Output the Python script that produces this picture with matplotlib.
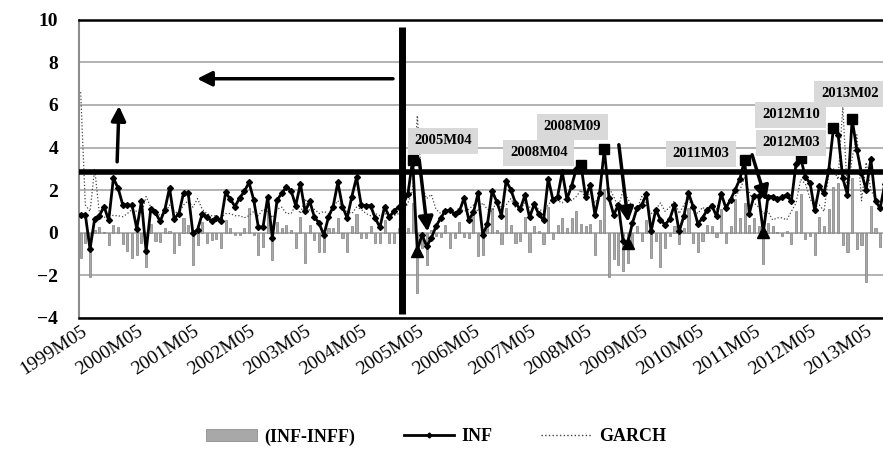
import numpy as np
import matplotlib.pyplot as plt
from matplotlib.patches import Patch
from matplotlib.lines import Line2D

plt.rcParams['font.family'] = ['Liberation Serif', 'DejaVu Serif']

# monthly data, index 0 = 1999M05
inf = [0.84, 0.84, -0.77, 0.66, 0.8, 1.23, 0.58, 2.56, 2.1, 1.31, 1.31, 1.28, 0.19, 1.47, -0.87,
       1.13, 0.95, 0.53, 1.08, 2.1, 0.66, 0.89, 1.86, 1.86, -0.02, 0.14, 0.89, 0.73, 0.55, 0.69,
       0.53, 1.89, 1.58, 1.23, 1.63, 1.94, 2.36, 1.55, 0.27, 0.27, 1.67, -0.25, 1.52, 1.86, 2.14,
       1.98, 1.27, 2.3, 1.0, 1.47, 0.73, 0.45, -0.12, 0.73, 1.23, 2.36, 1.23, 0.69, 1.7, 2.6,
       1.31, 1.27, 1.27, 0.69, 0.25, 1.22, 0.75, 1.0, 1.22, 1.36, 1.83, 3.42, -0.85, -0.09, -0.64,
       -0.25, 0.3, 0.69, 1.03, 1.05, 0.88, 1.0, 1.63, 0.61, 0.95, 1.85, -0.09, 0.4, 1.96, 1.45,
       0.8, 2.44, 2.02, 1.4, 1.1, 1.75, 0.72, 1.33, 0.86, 0.58, 2.54, 1.55, 1.7, 2.86, 1.58,
       2.2, 3.0, 3.18, 1.67, 2.25, 0.84, 1.86, 3.92, 1.63, 0.84, 1.31, -0.4, -0.5, 0.45, 1.16,
       1.31, 1.81, 0.06, 1.08, 0.61, 0.38, 0.64, 1.31, 0.06, 0.77, 1.86, 1.23, 0.42, 0.69, 1.08,
       1.27, 0.77, 1.83, 1.16, 1.55, 2.02, 2.53, 3.42, 0.9, 1.72, 1.72, 0.02, 1.7, 1.7, 1.58,
       1.67, 1.78, 1.47, 3.23, 3.5, 2.61, 2.33, 1.05, 2.17, 1.86, 2.95, 4.9, 4.6, 2.56, 1.78,
       5.33, 3.9, 2.8, 2.02, 3.45, 1.47, 1.16, 2.3]

inf_gap = [-1.2, -0.5, -2.1, 0.15, 0.25, 0.05, -0.6, 0.35, 0.25, -0.55, -0.85, -1.2, -1.05, -0.5,
           -1.6, 0.4, -0.4, -0.45, 0.2, 0.1, -0.95, -0.6, 0.7, 0.35, -1.5, -0.6, 0.5, -0.5, -0.35,
           -0.3, -0.7, 0.6, 0.2, -0.1, -0.1, 0.2, 1.15, -0.1, -1.05, -0.65, 1.0, -1.3, 0.5, 0.2,
           0.35, 0.15, -0.72, 0.75, -1.4, 0.35, -0.35, -0.9, -0.9, 0.2, 0.2, 0.7, -0.25, -0.9, 0.3,
           0.9, -0.25, -0.25, 0.3, -0.5, -0.5, 0.6, -0.5, -0.5, 0.2, -0.5, 0.2, 1.4, -2.85, -0.7,
           -1.5, 0.15, -0.15, -0.2, 0.35, -0.7, -0.25, 0.5, -0.2, -0.25, 0.9, -1.1, -1.05, 0.2,
           1.15, 0.15, -0.55, 1.15, 0.35, -0.5, -0.4, 0.75, -0.9, 0.3, 0.1, -0.55, 1.2, -0.3, 0.35,
           0.7, 0.2, 0.7, 1.0, 0.4, 0.3, 0.4, -1.05, 0.6, 2.05, -2.1, -1.25, -1.5, -1.8, -1.4, -0.7,
           0.3, -0.4, 0.6, -1.2, -0.4, -1.6, -0.7, -0.15, 0.3, -0.55, 0.2, 1.15, -0.5, -0.9, -0.4,
           0.35, 0.3, -0.2, 1.1, -0.5, 0.3, 1.6, 0.7, 1.4, 0.35, 0.7, 0.3, -1.45, 0.45, 0.3, 0.05,
           -0.15, 0.1, -0.55, 1.0, 1.8, -0.3, -0.15, -1.05, 0.75, 0.3, 1.1, 2.15, 2.35, -0.6, -0.9,
           2.55, -0.75, -0.6, -2.3, 1.25, 0.2, -0.65, 0.5]

garch = [6.6, 1.3, 1.0, 3.0, 0.9, 0.7, 0.9, 0.8, 0.8, 0.75, 0.9, 1.1, 1.0, 0.9, 1.7, 1.2, 1.0,
         0.8, 0.9, 1.3, 1.0, 0.9, 1.3, 1.5, 1.2, 1.6, 1.1, 0.9, 0.8, 0.8, 0.7, 0.9, 0.9, 0.8, 0.8,
         0.7, 0.8, 1.0, 0.8, 1.1, 1.0, 0.7, 1.1, 1.2, 0.9, 0.9, 1.3, 0.9, 1.6, 1.0, 1.1, 0.9, 1.0,
         0.9, 1.2, 1.5, 1.2, 1.0, 0.9, 1.2, 1.1, 0.9, 0.8, 0.9, 0.8, 0.9, 0.8, 0.8, 0.9, 1.0, 1.4,
         2.0, 5.5, 2.2, 1.6, 1.8, 1.1, 0.9, 1.0, 1.1, 0.9, 1.2, 1.0, 1.1, 1.3, 1.0, 1.4, 1.1, 1.0,
         1.5, 1.2, 1.3, 1.6, 1.2, 1.1, 1.4, 1.2, 1.3, 1.1, 1.0, 1.3, 1.6, 1.5, 1.4, 1.8, 1.5, 1.7,
         2.0, 1.6, 1.9, 1.4, 1.8, 2.0, 2.1, 1.7, 1.2, 2.0, 1.6, 1.2, 1.1, 1.7, 1.3, 0.9, 1.1, 1.4,
         1.0, 1.2, 1.5, 0.9, 1.3, 1.6, 1.1, 0.9, 1.2, 1.0, 1.4, 1.1, 1.7, 1.3, 1.5, 1.7, 2.0, 2.6,
         1.9, 1.4, 1.2, 0.9, 1.0, 0.6, 0.7, 0.7, 0.6, 1.0, 1.4, 2.5, 2.3, 1.6, 1.2, 1.3, 1.0, 2.8,
         3.0, 2.5, 5.9, 1.8, 3.5, 4.6, 1.5, 3.3, 2.0, 1.6, 1.4, 2.0]

years = list(range(1999, 2014))
tick_labels = [f"{y}M05" for y in years]

peak_idx = [71, 107, 112, 142, 154, 161, 165]
trough_idx = [72, 117, 146]
peak_names = ["2005M04", "2008M04", "2008M09", "2011M03", "2012M03", "2012M10", "2013M02"]
label_pos = [(77.5, 4.32), (98.0, 3.76), (105.2, 4.98), (132.6, 3.71), (151.9, 4.23),
             (151.9, 5.54), (164.5, 6.53)]

x = np.arange(len(inf))

fig = plt.figure(figsize=(8.83, 4.49), dpi=100)
ax = fig.add_axes([0.0895, 0.292, 0.9105, 0.664])

ax.set_ylim(-4, 10)
ax.set_xlim(-0.35, 171.6)
ax.set_yticks(range(-4, 11, 2))
ax.grid(axis='y', color='#a6a6a6', lw=1.2)
ax.set_axisbelow(True)

ax.bar(x, inf_gap, width=0.45, color='#a8a8a8', edgecolor='#808080', lw=0.5, zorder=2)
ax.plot(x, garch, ls=':', color='#444444', lw=0.9, zorder=3)
ax.plot(x, inf, color='black', lw=2.0, marker='D', ms=3, zorder=4)
ax.plot(x[peak_idx], np.array(inf)[peak_idx], 's', color='black', ms=7, zorder=5)
ax.plot(x[trough_idx], np.array(inf)[trough_idx], '^', color='black', ms=9, zorder=5)

# threshold lines
ax.axhline(2.83, color='black', lw=4, zorder=6)
ax.plot([68.65, 68.65], [-3.8, 9.67], color='black', lw=5, zorder=6, solid_capstyle='butt')

for name, (lx, ly) in zip(peak_names, label_pos):
    ax.text(lx, ly, name, ha='center', va='center', fontsize=10.5, fontweight='bold', zorder=7,
            bbox=dict(boxstyle='square,pad=0.45', fc='#d9d9d9', ec='none'))

arr = dict(arrowstyle='-|>', lw=2.5, color='black', mutation_scale=22, shrinkA=0, shrinkB=0)
arrows = [((66.8, 7.23), (24.9, 7.23)), ((7.8, 3.33), (8.2, 5.95)),
          ((72.4, 3.43), (74.2, 0.05)), ((115.1, 4.13), (117.1, 0.5)),
          ((143.6, 3.66), (146.6, 1.5)), ((167.3, 5.63), (174.5, 1.0))]
for start, end in arrows:
    ax.annotate('', xy=end, xytext=start, arrowprops=arr, zorder=8)

ax.set_xticks(np.arange(0, 169, 12))
ax.set_xticklabels(tick_labels, rotation=33, ha='right', rotation_mode='anchor', fontsize=14)
ax.tick_params(axis='both', length=0)
ax.tick_params(axis='y', labelsize=14, pad=15)
for lab in ax.get_yticklabels():
    lab.set_fontweight('bold')

ax.spines['left'].set_color('#8c8c8c')
ax.spines['left'].set_linewidth(1.5)
ax.spines['top'].set_linewidth(1.8)
ax.spines['bottom'].set_linewidth(1.8)
ax.spines['right'].set_visible(False)

handles = [Patch(fc='#a8a8a8', ec='#808080', lw=0.5),
           Line2D([], [], color='black', lw=2, marker='D', ms=2.5),
           Line2D([], [], color='#444444', ls=':', lw=1)]
fig.legend(handles, ['(INF-INFF)', 'INF', 'GARCH'], loc='center', bbox_to_anchor=(0.494, 0.027),
           ncol=3, frameon=False, handlelength=2.8, handletextpad=0.4, columnspacing=2.7,
           prop={'weight': 'bold', 'size': 13})

fig.savefig('out.png', dpi=100)
